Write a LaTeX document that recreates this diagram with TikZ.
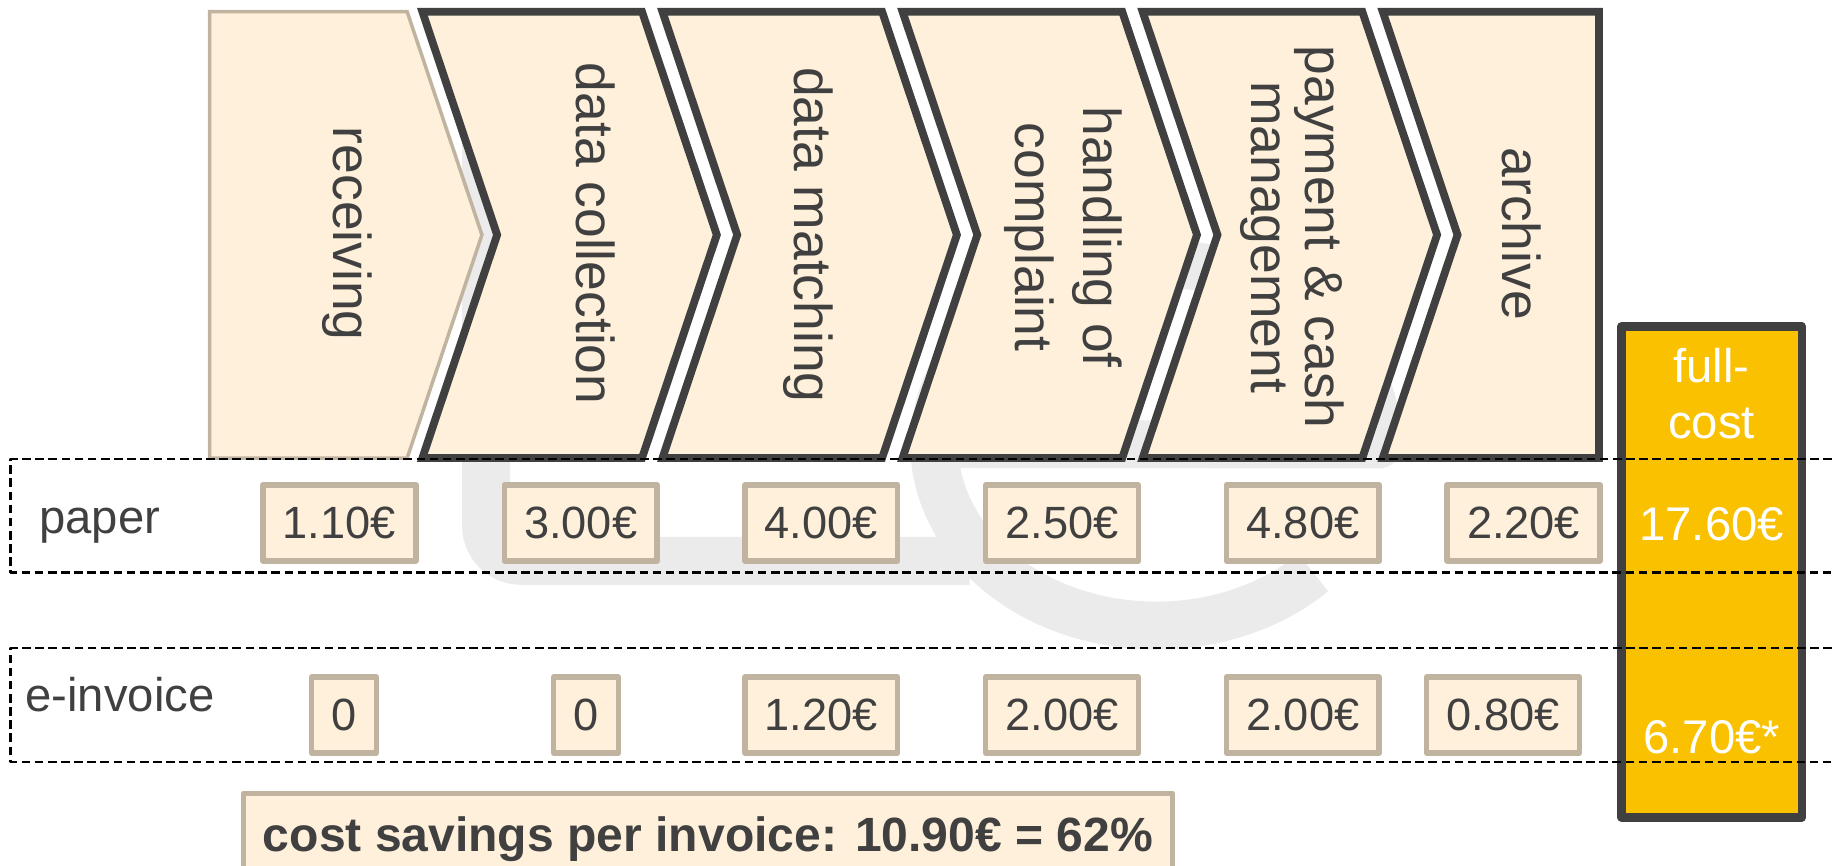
\documentclass[tikz,border=0pt]{standalone}
\usepackage{fontspec}
\setmainfont{Liberation Sans}
\definecolor{cream}{HTML}{FEF0DA}
\definecolor{boxtan}{HTML}{C0B4A1}
\definecolor{darkline}{HTML}{404040}
\definecolor{costyellow}{HTML}{F9C100}
\definecolor{logogray}{HTML}{EBEBEB}

\begin{document}
\begin{tikzpicture}[x=0.01cm,y=-0.01cm,line cap=butt,line join=round,
  every node/.style={text=darkline},
  logostroke/.style={draw=logogray,line width=0.41cm},
  stage/.style={fill=cream,draw=darkline,line width=1.9pt,line join=miter},
  stagefirst/.style={fill=cream,draw=boxtan,line width=0.85pt,line join=miter},
  stagetext/.style={rotate=-90,align=center,font=\fontsize{13}{16.5}\selectfont},
  rowline/.style={draw=black,line width=0.5pt,dash pattern=on 2.1pt off 1.1pt},
  rowlabel/.style={anchor=base west,inner sep=0pt,font=\fontsize{11.5}{14}\selectfont},
  cost/.style={fill=cream,draw=boxtan,line width=1.3pt,inner xsep=0.17cm,minimum height=0.65cm,font=\fontsize{11}{13}\selectfont},
  total/.style={fill=costyellow,draw=darkline,line width=2.1pt},
  totaltext/.style={text=white,align=center,font=\fontsize{11.5}{13.6}\selectfont}]

\useasboundingbox (0,0) rectangle (1568,741);

\draw [logostroke,rounded corners=0.3cm] (416,30) -- (416,480) -- (830,480);
\draw [logostroke] (1124,490) arc[start angle=45,end angle=360,x radius=190,y radius=155] -- (800,380);

\draw [stagefirst] (179.5,10) -- (348.5,10) -- (412.5,201) -- (348.5,392) -- (179.5,392) -- cycle;
\foreach \l in {361.5,567,772.5,978}
  \draw [stage] (\l,10) -- ++(188,0) -- ++(64,191) -- ++(-64,191) -- ++(-188,0) -- ++(64,-191) -- cycle;
\draw [stage] (1183.5,10) -- (1368.5,10) -- (1368.5,392) -- (1183.5,392) -- (1247.5,201) -- cycle;

\node [stagetext] (receive) at (297,200) {receiving};
\node [stagetext] (collect) at (510,200) {data collection};
\node [stagetext] (match) at (692,201) {data matching};
\node [stagetext] (complain) at (910,203) {handling of\\complaint};
\node [stagetext,font=\fontsize{13}{13.3}\selectfont] (pay) at (1106,203) {payment \& cash\\management};
\node [stagetext] (archive) at (1302,200) {archive};

\node [total,minimum width=1.546cm,minimum height=4.196cm] (fullcost) at (1465,489.5) {};

\draw [rowline] (1568,393) -- (9,393) -- (9,490) -- (1568,490);
\draw [rowline] (1568,555) -- (9,555) -- (9,652) -- (1568,652);

\node [rowlabel] (paperlabel) at (33,457) {paper};
\node [rowlabel] (einvlabel) at (21,609) {e-invoice};

\foreach \x/\v [count=\i] in {290.5/1.10€,497/3.00€,703/4.00€,909/2.50€,1115/4.80€,1304/2.20€}
  \node [cost] (paper\i) at (\x,447.5) {\v};
\foreach \x/\v [count=\i] in {294.5/0,501.5/0,703/1.20€,909/2.00€,1115/2.00€,1286.5/0.80€}
  \node [cost] (einv\i) at (\x,612) {\v};

\node [totaltext] (fullhead) at (1465,337) {full-\\cost};
\node [totaltext] (papertotal) at (1465,449) {17.60€};
\node [totaltext] (einvtotal) at (1465,631) {6.70€*};

\node [fill=cream,draw=boxtan,line width=1.3pt,minimum width=7.95cm,minimum height=0.775cm,font=\fontsize{11.7}{14}\selectfont\bfseries] (savings) at (606,718) {cost savings per invoice: 10.90€ = 62\%};
\end{tikzpicture}
\end{document}
